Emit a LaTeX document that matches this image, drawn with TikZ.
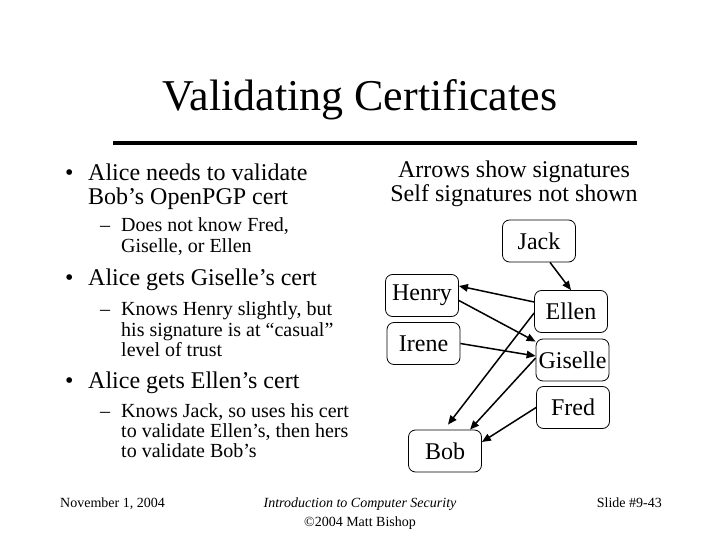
\documentclass[tikz,border=0pt]{standalone}
\usepackage{fontspec}
\setmainfont{Liberation Serif}
\usetikzlibrary{arrows.meta,positioning}
\definecolor{ink}{HTML}{000000}

\begin{document}
\begin{tikzpicture}[
  x=1pt,y=-1pt,
  every node/.style={inner sep=0pt,text=ink},
  titletext/.style={font=\fontsize{44}{44}\selectfont,anchor=base},
  lvlone/.style={font=\fontsize{24}{24}\selectfont,anchor=base west},
  lvltwo/.style={font=\fontsize{20}{20}\selectfont,anchor=base west},
  foot/.style={font=\fontsize{14}{14}\selectfont,anchor=base},
  holder/.style={draw=ink,line width=0.8pt,rounded corners=7pt,minimum width=73pt,minimum height=42pt,font=\fontsize{24}{24}\selectfont},
  arr/.style={-{Triangle[length=9pt,width=7.5pt]},line width=1.5pt,draw=ink}
]
\fill[white] (0,0) rectangle (720,540);

% Title and rule
\node[titletext] (title) at (360,111) {Validating Certificates};
\draw[line width=4pt] (113,143.5) -- (637,143.5);

% Left column bullets
\node[lvlone] (dot1) at (65,181) {•};
\node[lvlone] (a1) at (88,181) {Alice needs to validate};
\node[lvlone] (a2) at (88,205) {Bob’s OpenPGP cert};
\node[lvltwo] (dash1) at (100,231) {–};
\node[lvltwo] (a3) at (121,231) {Does not know Fred,};
\node[lvltwo] (a4) at (121,252) {Giselle, or Ellen};

\node[lvlone] (dot2) at (65,285) {•};
\node[lvlone] (b1) at (88,285) {Alice gets Giselle’s cert};
\node[lvltwo] (dash2) at (100,315) {–};
\node[lvltwo] (b2) at (121,315) {Knows Henry slightly, but};
\node[lvltwo] (b3) at (121,336) {his signature is at “casual”};
\node[lvltwo] (b4) at (121,356) {level of trust};

\node[lvlone] (dot3) at (65,388) {•};
\node[lvlone] (c1) at (88,388) {Alice gets Ellen’s cert};
\node[lvltwo] (dash3) at (100,417) {–};
\node[lvltwo] (c2) at (121,417) {Knows Jack, so uses his cert};
\node[lvltwo] (c3) at (121,437) {to validate Ellen’s, then hers};
\node[lvltwo] (c4) at (121,457) {to validate Bob’s};

% Right column caption
\node[lvlone,anchor=base] (cap1) at (514,178) {Arrows show signatures};
\node[lvlone,anchor=base] (cap2) at (514,202) {Self signatures not shown};

% Signature graph
\node[holder] (jack) at (539,241) {Jack};
\node[holder] (henry) at (422,295.5) {Henry};
\node[holder] (irene) at (423.5,343.5) {Irene};
\node[holder] (ellen) at (571,311.5) {Ellen};
\node[holder] (giselle) at (572.5,360) {Giselle};
\node[holder] (fred) at (573,407.5) {Fred};
\node[holder] (bob) at (445,451) {Bob};

\draw[arr] ([xshift=11pt]jack.south) -- (ellen.north);
\draw[arr] ([yshift=9.5pt]ellen.west) -- ([yshift=9.5pt]henry.east);
\draw[arr] ([yshift=-5pt]henry.east) -- ([yshift=-3pt]giselle.north west);
\draw[arr] (irene.east) -- ([yshift=4pt]giselle.west);
\draw[arr] ([yshift=-1.5pt]ellen.west) -- ([xshift=3pt,yshift=5pt]bob.north);
\draw[arr] ([yshift=2pt]giselle.west) -- ([xshift=25pt]bob.north);
\draw[arr] (fred.west) -- ([yshift=9pt]bob.east);

% Footer
\node[foot,anchor=base west] (date) at (60,507) {November 1, 2004};
\node[foot] (course) at (360,507) {\itshape Introduction to Computer Security};
\node[foot] (copy) at (360,526) {©2004 Matt Bishop};
\node[foot,anchor=base east] (slide) at (662,507) {Slide \#9-43};
\end{tikzpicture}
\end{document}
